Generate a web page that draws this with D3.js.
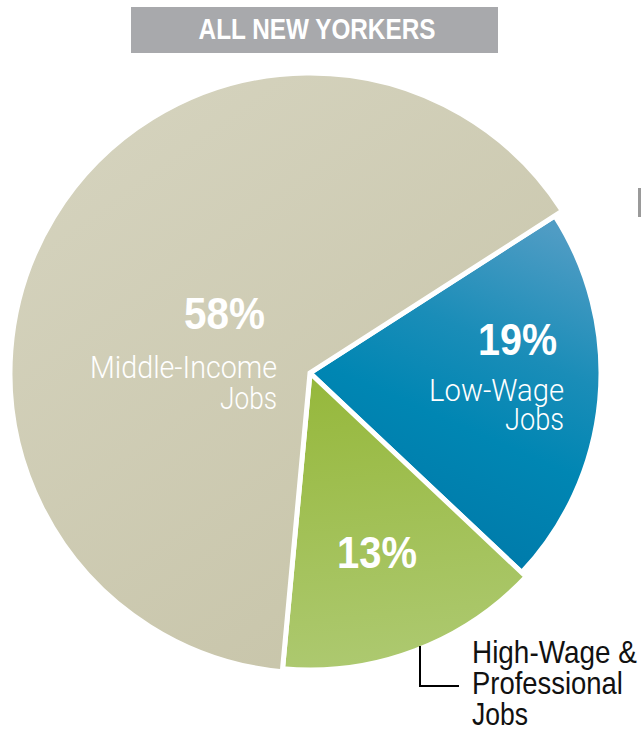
<!DOCTYPE html>
<html>
<head>
<meta charset="utf-8">
<script src="https://cdn.jsdelivr.net/npm/d3@7"></script>
<style>
  html, body { margin: 0; padding: 0; background: #fff; }
  svg { display: block; }
  text { font-family: "Liberation Sans", Arial, sans-serif; }
  text.light { font-family: Roboto, "Liberation Sans", sans-serif; font-weight: 300; }
</style>
</head>
<body>
<svg id="chart" width="641" height="732"></svg>
<script>
// Share of jobs held, by wage tier
const title = "ALL NEW YORKERS";
const categories = ["Low-Wage Jobs", "High-Wage & Professional Jobs", "Middle-Income Jobs"];
const shares = [19, 13, 58];
const labelLines = [["Low-Wage", "Jobs"], ["High-Wage &", "Professional", "Jobs"], ["Middle-Income", "Jobs"]];

const svg = d3.select("#chart");
const cx = 310, cy = 373;
const startDeg = 57.3;

// slice styling (gradient ends given in page pixels)
const radii = [291, 297, 300];
const gradients = [
  { id: "g-low", x1: 575, y1: 240, x2: 430, y2: 570, stops: [["0%", "#4f9cc4"], ["35%", "#1a8db8"], ["60%", "#0086b3"], ["100%", "#0078a8"]] },
  { id: "g-high", x1: 330, y1: 380, x2: 360, y2: 668, stops: [["0%", "#96b83c"], ["100%", "#adc970"]] },
  { id: "g-mid", x1: 60, y1: 120, x2: 420, y2: 620, stops: [["0%", "#d5d3be"], ["100%", "#c8c5aa"]] }
];

const defs = svg.append("defs");
gradients.forEach(g => {
  const lg = defs.append("linearGradient")
    .attr("id", g.id).attr("gradientUnits", "userSpaceOnUse")
    .attr("x1", g.x1 - cx).attr("y1", g.y1 - cy).attr("x2", g.x2 - cx).attr("y2", g.y2 - cy);
  g.stops.forEach(s => lg.append("stop").attr("offset", s[0]).attr("stop-color", s[1]));
});

// draws a text run squeezed horizontally to a set width (condensed look)
function label(x, y, str, opts) {
  const t = svg.append("text")
    .attr("class", opts.cls || null)
    .attr("text-anchor", opts.anchor || "start")
    .attr("fill", opts.fill)
    .attr("font-size", opts.size)
    .attr("font-weight", opts.weight || null)
    .text(str);
  const natural = t.node().getComputedTextLength();
  const sx = natural > 0 ? opts.w / natural : 1;
  t.attr("transform", `translate(${x},${y}) scale(${sx},1)`);
  return t;
}

// title bar
svg.append("rect").attr("x", 131).attr("y", 7).attr("width", 367).attr("height", 46).attr("fill", "#a8a9ac");
label(317, 39, title, { anchor: "middle", fill: "#fff", size: 29, weight: "bold", w: 237 });

// small mark at the right edge
svg.append("rect").attr("x", 638).attr("y", 188).attr("width", 3).attr("height", 29).attr("fill", "#9a9a9a");

const toRad = d => d * Math.PI / 180;
const pie = d3.pie().sort(null).value(d => d)
  .startAngle(toRad(startDeg)).endAngle(toRad(startDeg + 360));
const arcs = pie(shares);

const g = svg.append("g").attr("transform", `translate(${cx},${cy})`);
g.selectAll("path.slice")
  .data(arcs)
  .join("path")
  .attr("class", "slice")
  .attr("d", (d, i) => d3.arc().innerRadius(0).outerRadius(radii[i])(d))
  .attr("fill", (d, i) => `url(#${gradients[i].id})`)
  .attr("stroke", "#fff")
  .attr("stroke-width", 5)
  .attr("stroke-linejoin", "miter");

// in-slice labels
label(557, 355, shares[0] + "%", { anchor: "end", fill: "#fff", size: 44, weight: "bold", w: 79 });
label(564, 401, labelLines[0][0], { anchor: "end", fill: "#fff", size: 32, cls: "light", w: 135 });
label(564, 430, labelLines[0][1], { anchor: "end", fill: "#fff", size: 32, cls: "light", w: 59 });

label(265, 329, shares[2] + "%", { anchor: "end", fill: "#fff", size: 44, weight: "bold", w: 81 });
label(277, 378, labelLines[2][0], { anchor: "end", fill: "#fff", size: 32, cls: "light", w: 187 });
label(277, 409, labelLines[2][1], { anchor: "end", fill: "#fff", size: 32, cls: "light", w: 57 });

// high-wage slice: percentage inside, name outside with a leader
label(377, 568, shares[1] + "%", { anchor: "middle", fill: "#fff", size: 44, weight: "bold", w: 80 });
svg.append("path").attr("d", "M420,646V686H459")
  .attr("fill", "none").attr("stroke", "#000").attr("stroke-width", 2);
const outsideW = [165, 151, 56];
labelLines[1].forEach((t, k) => {
  label(472, 663 + k * 31, t, { fill: "#111", size: 32, w: outsideW[k] });
});
</script>
</body>
</html>
